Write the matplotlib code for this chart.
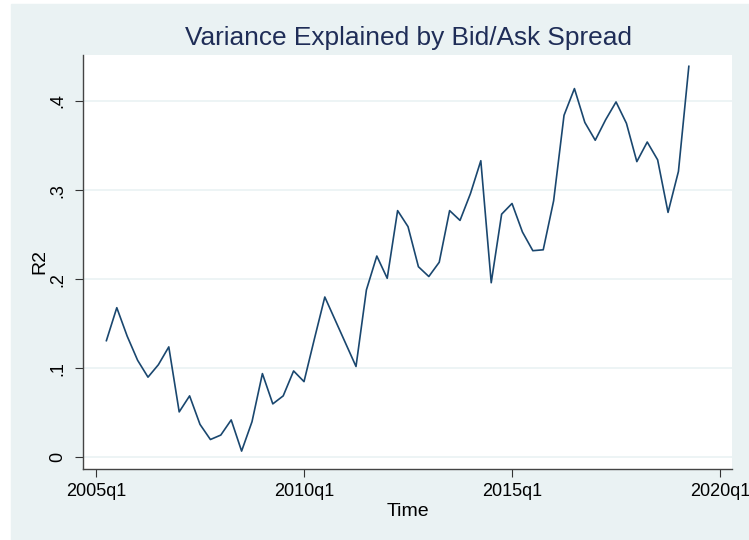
import numpy as np
import pandas as pd
import matplotlib
matplotlib.use("Agg")
import matplotlib.pyplot as plt
from matplotlib.patches import Rectangle

# quarterly R2, 2005q2 .. 2019q2
start_q = "2005Q2"
end_q = "2019Q2"
r2 = [0.131, 0.168, 0.136, 0.109, 0.090, 0.104, 0.124, 0.051, 0.069, 0.037,
      0.020, 0.025, 0.042, 0.007, 0.040, 0.094, 0.060, 0.069, 0.097, 0.085,
      0.133, 0.180, 0.154, 0.128, 0.102, 0.188, 0.226, 0.201, 0.277, 0.259,
      0.214, 0.203, 0.219, 0.277, 0.266, 0.296, 0.333, 0.196, 0.273, 0.285,
      0.253, 0.232, 0.233, 0.288, 0.384, 0.414, 0.376, 0.356, 0.379, 0.399,
      0.375, 0.332, 0.354, 0.334, 0.275, 0.321, 0.439]
xtick_labels = ["2005q1", "2010q1", "2015q1", "2020q1"]
ytick_vals = [0, 0.1, 0.2, 0.3, 0.4]
ytick_labels = ["0", ".1", ".2", ".3", ".4"]

base = pd.Period("2005Q1", freq="Q")
quarters = pd.period_range(start_q, end_q, freq="Q")
t = np.array([(q - base).n for q in quarters])
xtick_pos = [(pd.Period(s.replace("q", "Q"), freq="Q") - base).n for s in xtick_labels]

plt.rcParams["font.family"] = ["Liberation Sans", "DejaVu Sans"]

bg = "#eaf2f3"
navy = "#1a476f"

fig = plt.figure(figsize=(7.49, 5.40), dpi=100)
fig.add_artist(Rectangle((11 / 749, 0), 1 - 11 / 749, 1 - 4 / 540,
                         transform=fig.transFigure, color=bg, zorder=-10))

ax = fig.add_axes([83.3 / 749, 1 - 469 / 540, (732 - 83.3) / 749, (469 - 55) / 540])
ax.set_facecolor("white")
ax.plot(t, r2, color=navy, lw=1.2)

ax.set_xlim(-1.22, 61.15)
ax.set_ylim(-0.0131, 0.4517)
ax.set_xticks(xtick_pos)
ax.set_xticklabels(xtick_labels, fontsize=13)
ax.set_yticks(ytick_vals)
ax.set_yticklabels(ytick_labels, fontsize=13, rotation=90, va="center")
ax.tick_params(axis="x", length=6, width=0.8, color="#333333", pad=4)
ax.tick_params(axis="y", length=6, width=0.8, color="#333333", pad=6)
ax.grid(axis="y", color=bg, lw=1.2)
ax.set_axisbelow(True)
for s in ["top", "right"]:
    ax.spines[s].set_visible(False)
for s in ["left", "bottom"]:
    ax.spines[s].set_color("#444444")
    ax.spines[s].set_linewidth(1.0)

ax.set_xlabel("Time", fontsize=14, labelpad=2)
ax.set_ylabel("R2", fontsize=14, labelpad=1)
fig.text(0.545, 1 - 38 / 540, "Variance Explained by Bid/Ask Spread",
         fontsize=18.9, color="#1f2d57", ha="center", va="center")

fig.savefig("out.png", dpi=100)
